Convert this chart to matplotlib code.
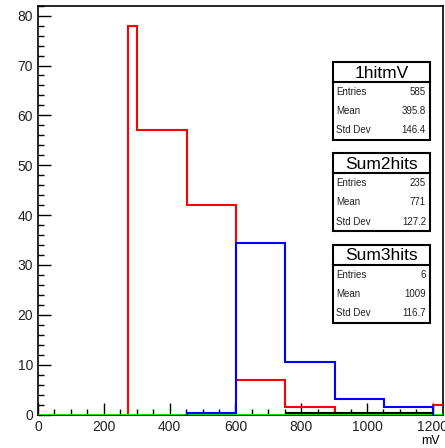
import matplotlib
matplotlib.use("Agg")
import matplotlib.pyplot as plt
from matplotlib.ticker import MultipleLocator
from matplotlib.patches import Rectangle

plt.rcParams['font.family'] = ['Liberation Sans', 'DejaVu Sans']

# Histogram contents (mV)
red_edges = [0, 275, 302, 452, 602, 752, 902, 1052, 1202, 1352]
red_counts = [0, 78, 57, 42, 7, 1.5, 0, 0, 2]

blue_edges = [452, 602, 752, 902, 1052, 1202]
blue_counts = [0.35, 34.4, 10.6, 3.1, 1.5]

black_edges = [752, 1202]
black_counts = [0.35]

green_edges = [0, 1352]
green_counts = [0]

# Stat box contents
stat_titles = ["1hitmV", "Sum2hits", "Sum3hits"]
stat_entries = ["585", "235", "6"]
stat_means = ["395.8", "771", "1009"]
stat_stddevs = ["146.4", "127.2", "116.7"]

W, H = 445, 448
fig = plt.figure(figsize=(W / 100, H / 100), dpi=100)
ax = fig.add_axes([38 / W, 1 - 414.5 / H, 405 / W, 408.8 / H])

ax.stairs(red_counts, red_edges, color='#ff0000', lw=1.5, baseline=0, zorder=3)
ax.stairs(green_counts, green_edges, color='#00ff00', lw=2.0, baseline=0, zorder=4)
ax.stairs(blue_counts, blue_edges, color='#0000ff', lw=1.5, baseline=0, zorder=5)
ax.stairs(black_counts, black_edges, color='black', lw=1.5, baseline=None, zorder=5)

ax.set_xlim(0, 1231)
ax.set_ylim(0, 82)
ax.xaxis.set_major_locator(MultipleLocator(200))
ax.xaxis.set_minor_locator(MultipleLocator(50))
ax.yaxis.set_major_locator(MultipleLocator(10))
ax.yaxis.set_minor_locator(MultipleLocator(2))
ax.tick_params(which='both', direction='in', top=False, right=False, width=1.0,
               labelsize=10, labelcolor='#222222')
ax.tick_params(which='major', length=9)
ax.tick_params(which='minor', length=4.5)
ax.tick_params(axis='x', pad=4)
ax.tick_params(axis='y', pad=3.5)
for sp in ax.spines.values():
    sp.set_linewidth(1.2)

fig.text(440 / W, 1 - 441 / H, "mV", ha='right', va='center', fontsize=9)

# Overlay in pixel coordinates for the stat boxes
ov = fig.add_axes([0, 0, 1, 1], zorder=10)
ov.set_xlim(0, W)
ov.set_ylim(H, 0)
ov.axis('off')

box_left, box_right = 333, 430
box_tops = [62, 153.5, 245]
title_h = 20
row_h = 19.3
for i, title in enumerate(stat_titles):
    top = box_tops[i]
    bottom = top + title_h + 3 * row_h
    ov.add_patch(Rectangle((box_left, top), box_right - box_left, bottom - top,
                           facecolor='white', edgecolor='black', lw=1.5))
    ov.plot([box_left, box_right], [top + title_h, top + title_h], color='black', lw=1.5)
    ov.text((box_left + box_right) / 2, top + title_h / 2 + 1, title,
            ha='center', va='center', fontsize=12.5)
    rows = [("Entries", stat_entries[i]), ("Mean", stat_means[i]),
            ("Std Dev", stat_stddevs[i])]
    for j, (lab, val) in enumerate(rows):
        y = top + title_h + row_h * (j + 0.5)
        ov.text(box_left + 3, y, lab, ha='left', va='center', fontsize=7, color='#222222')
        ov.text(box_right - 4, y, val, ha='right', va='center', fontsize=7, color='#222222')

fig.savefig("out.png", dpi=100)
